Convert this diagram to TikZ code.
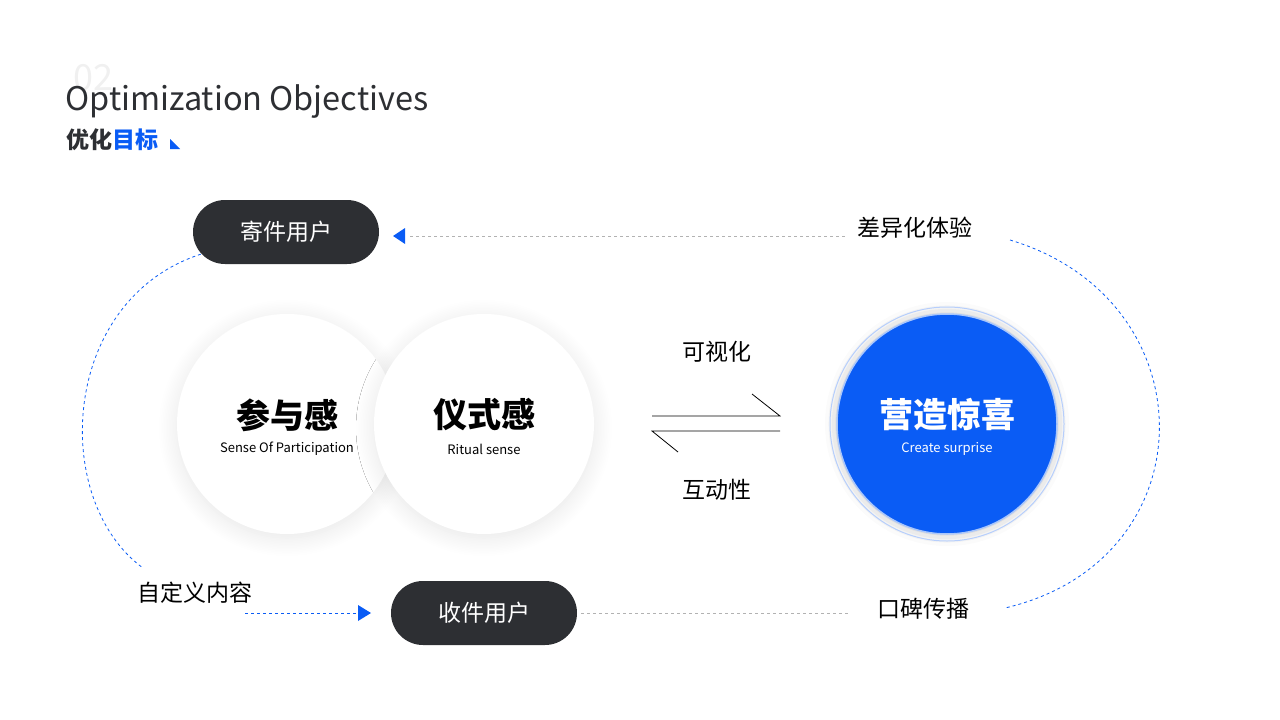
\documentclass[tikz,border=0pt]{standalone}
\usepackage{fontspec}
\setmainfont{Noto Sans CJK SC}
\usetikzlibrary{shadows.blur}
\definecolor{brandblue}{HTML}{0A5CF5}
\definecolor{pilldark}{HTML}{2D2F33}
\begin{document}
\begin{tikzpicture}[x=1pt,y=-1pt,
    pill/.style={draw=none,fill=pilldark,rounded corners=32pt,minimum width=186pt,minimum height=64pt,text=white,font=\fontsize{23}{27}\selectfont},
    ball/.style={circle,fill=white,minimum size=220pt,blur shadow={shadow blur steps=12,shadow xshift=0pt,shadow yshift=-4pt,shadow opacity=10,shadow blur radius=18pt}},
    label/.style={font=\fontsize{23}{27}\selectfont,text=black},
    bigtext/.style={font=\fontsize{34}{38}\selectfont\bfseries},
    smalltext/.style={font=\fontsize{13}{15}\selectfont},
    bluedash/.style={brandblue,line width=0.8pt,dash pattern=on 3pt off 3pt},
    greydash/.style={gray!60,line width=0.6pt,dash pattern=on 3pt off 3pt}]
  \useasboundingbox (0,0) rectangle (1280,720);
  % heading
  \node (num) [anchor=west,text=gray!12,font=\fontsize{36}{40}\selectfont] at (70,78) {02};
  \node (title) [anchor=west,text=pilldark,font=\fontsize{32.5}{36}\selectfont] at (62,101) {Optimization Objectives};
  \node (subtitle) [anchor=west,font=\fontsize{23}{26}\selectfont\bfseries] at (63,140) {\textcolor{pilldark}{优化}\textcolor{brandblue}{目标}};
  \fill[brandblue] (170,139) -- (180,149) -- (170,149) -- cycle;
  % circles
  \node (part) [ball] at (287,424) {};
  \node (ritual) [ball] at (484,424) {};
  \node (parttext) [bigtext] at (287,415) {参与感};
  \node (partsub) [smalltext] at (287,449) {Sense Of Participation};
  \node (ritualtext) [bigtext] at (484,415) {仪式感};
  \node (ritualsub) [smalltext] at (484,449) {Ritual sense};
  \node (surprise) [circle,fill=brandblue,minimum size=220pt,draw=brandblue!35,line width=1.5pt,
    blur shadow={shadow xshift=0pt,shadow yshift=0pt,shadow blur radius=12pt,shadow opacity=25}] at (947,424) {};
  \draw[brandblue!30,line width=1pt] (surprise) circle (117pt);
  \node (surprisetext) [bigtext,text=white] at (947,415) {营造惊喜};
  \node (surprisesub) [smalltext,text=white] at (947,449) {Create surprise};
  % exchange arrows
  \draw[line width=0.8pt] (652,416) -- (780,416) -- (752,394);
  \draw[line width=0.8pt] (780,431) -- (652,431) -- (678,452);
  \node (vis) [label] at (717,352) {可视化};
  \node (inter) [label] at (717,490) {互动性};
  % pills and labels
  \node (sender) [pill] at (286,232) {寄件用户};
  \node (receiver) [pill] at (484,613) {收件用户};
  \node (diff) [label] at (915,228) {差异化体验};
  \node (word) [label] at (923,609) {口碑传播};
  \node (custom) [label] at (195,593) {自定义内容};
  % connectors
  \draw[greydash] (845,236) -- (410,236) coordinate (d2);
  \fill[brandblue] (d2) ++(-17,0) -- ++(12,-8) -- ++(0,16) -- cycle;
  \draw[greydash] (receiver.east) ++(4,0) -- (850,613);
  \draw[bluedash] (245,613) -- (358,613);
  \fill[brandblue] (371,613) -- (358,605) -- (358,621) -- cycle;
  \draw[bluedash] (sender.south west) ++(8,-10) .. controls (60,300) and (50,500) .. (143,568);
  \draw[bluedash] (1010,240) .. controls (1210,300) and (1210,560) .. (1005,608);
\end{tikzpicture}
\end{document}
